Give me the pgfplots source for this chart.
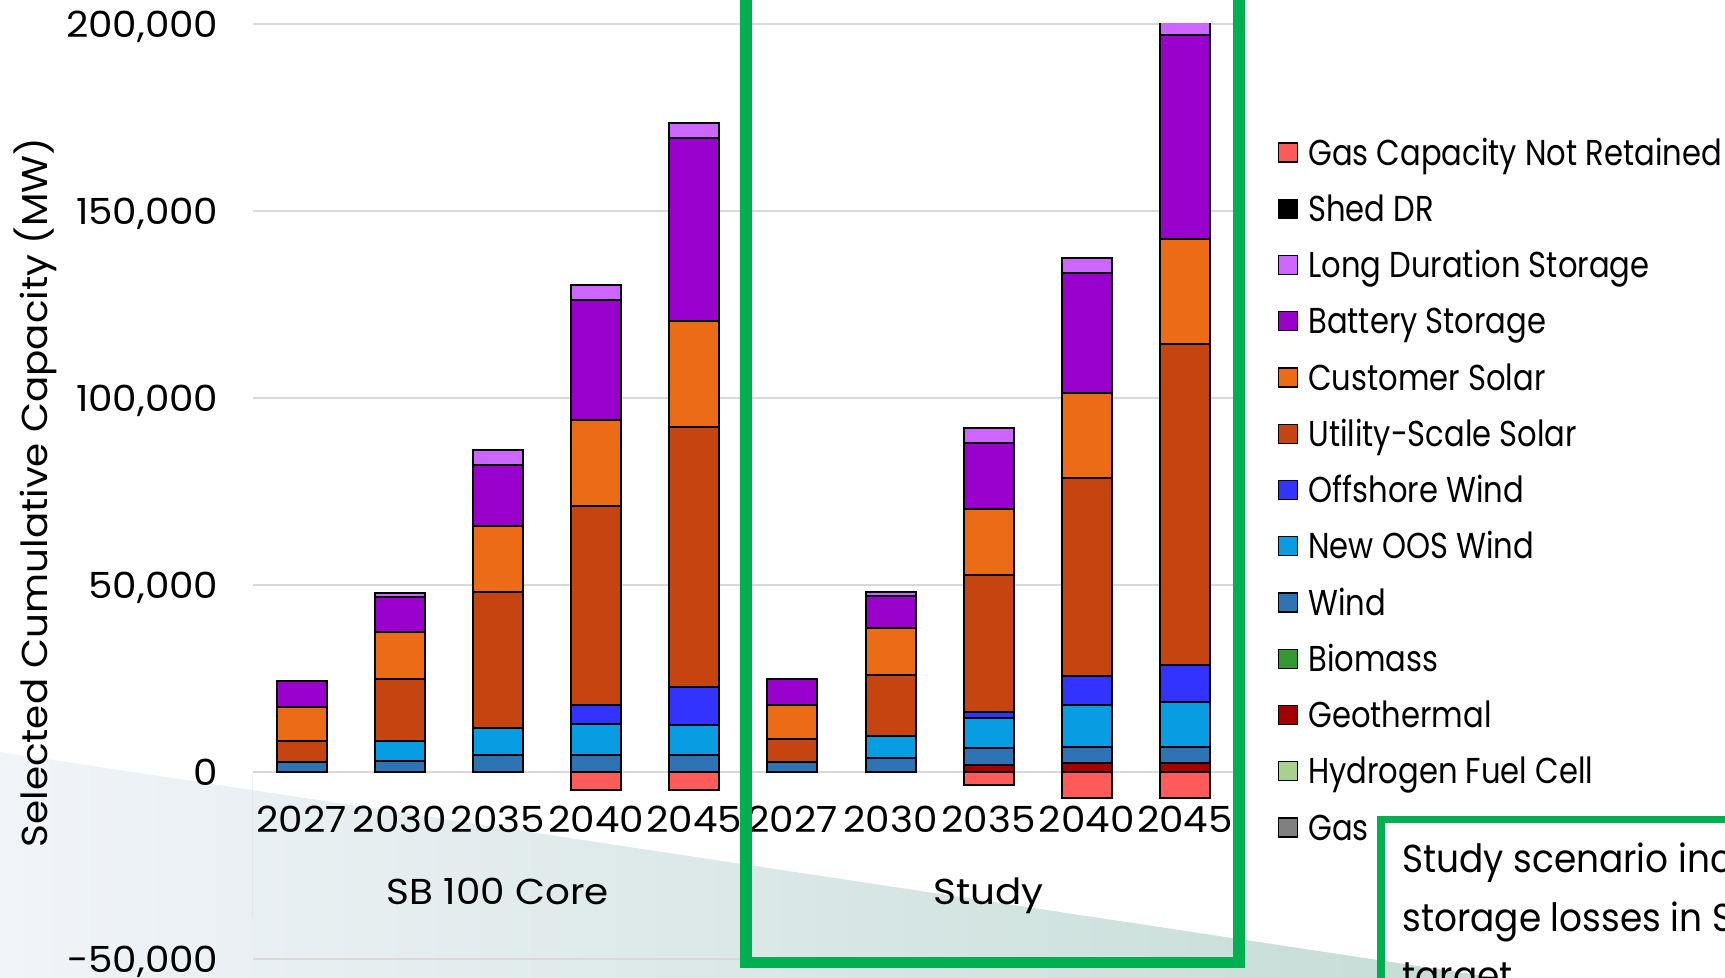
\documentclass[border=0pt]{standalone}
\usepackage{fontspec}
\setmainfont{Poppins}[FakeStretch=1.08]
\newfontfamily\legendfont{Poppins}[FakeStretch=0.85]
\newfontfamily\calloutfont{Poppins}[FakeStretch=0.92]
\usepackage{pgfplots}
\usepackage{pgfplotstable}
\pgfplotsset{compat=1.18}

\definecolor{gcnr}{HTML}{FF5B5B}
\definecolor{lds}{HTML}{CC66FF}
\definecolor{battery}{HTML}{9900CC}
\definecolor{custsolar}{HTML}{EB6B16}
\definecolor{utilsolar}{HTML}{C5440F}
\definecolor{offshore}{HTML}{3333FF}
\definecolor{newoos}{HTML}{089CE3}
\definecolor{wind}{HTML}{2E74B5}
\definecolor{biomass}{HTML}{339933}
\definecolor{geo}{HTML}{A50000}
\definecolor{hydrogen}{HTML}{A9D18E}
\definecolor{gas}{HTML}{808080}
\definecolor{gridgray}{HTML}{D9D9D9}
\definecolor{boxgreen}{HTML}{00B050}
\definecolor{bgl}{HTML}{F1F4F9}
\definecolor{bgr}{HTML}{C4DCD5}

% Selected cumulative capacity (MW); rows 0-4 = SB 100 Core, rows 5-9 = Study
\pgfplotstableread{
x wind geo newoos offshore utility customer battery lds gcnr
0 2750 0    0     0     5600  9090  6950  0    0
1 2940 0    5350  0     16650 12560 9360  1070 0
2 4540 0    7140  0     36510 17640 16150 4090 0
3 4540 0    8200  5160  53190 22990 32080 4010 -4810
4 4540 0    8020  10160 69580 28250 48840 4010 -4810
5 2750 0    0     0     5990  9170  6870  0    0
6 3660 0    5960  0     16220 12560 8710  990  0
7 4380 1950 8180  1440  36780 17640 17640 4010 -3470
8 4440 2330 11070 7830  52850 22880 32080 3850 -7030
9 4440 2330 11870 9890  85890 28150 54450 4000 -7030
}\capacity

\pgfplotsset{
  capframe/.style={
    at={(126.35pt,9.5pt)}, anchor=south west, scale only axis,
    width=490.65pt, height=467.5pt,
    xmin=-0.5, xmax=9.5, ymin=-50000, ymax=200000,
    bar width=25pt,
  },
}

\begin{document}
\fontsize{18pt}{21.6pt}\selectfont
\begin{tikzpicture}
\useasboundingbox (0,0) rectangle (862.5pt,489pt);
\clip (0,0) rectangle (862.5pt,489pt);

% slide background wedge
\shade[left color=bgl, right color=bgr] (0,113pt) -- (748.5pt,0) -- (0,0) -- cycle;

\begin{axis}[
  capframe,
  ybar stacked,
  axis line style={draw=none},
  tick style={draw=none},
  ymajorgrids,
  grid style={color=gridgray, line width=0.75pt},
  ytick={-50000,0,...,200000},
  yticklabels={{-50,000},{0},{50,000},{100,000},{150,000},{200,000}},
  yticklabel style={anchor=east, inner sep=0pt, xshift=-17pt, text depth=0pt},
  xtick={0,...,9},
  xticklabels={2027,2030,2035,2040,2045,2027,2030,2035,2040,2045},
  xticklabel style={anchor=base, inner sep=0pt, yshift=63pt},
  ylabel={Selected Cumulative Capacity (MW)},
  ylabel style={at={(axis description cs:-0.1994,0.499)}, anchor=south, inner sep=0pt},
  legend cell align=left,
  legend style={
    at={(axis description cs:1.0448,0.8759)}, anchor=north west,
    draw=none, fill=none, inner sep=0pt, outer sep=0pt,
    row sep=15.625pt, column sep=5pt, font=\legendfont,
    nodes={inner sep=0pt, text height=12.5pt, text depth=0pt},
  },
  legend image code/.code={\draw[#1, line width=0.7pt] (0pt,-4.75pt) rectangle (9.5pt,4.75pt);},
]
\addplot[fill=geo, draw=black, line width=1pt, forget plot] table[x=x, y=geo] {\capacity};
\addplot[fill=wind, draw=black, line width=1pt, forget plot] table[x=x, y=wind] {\capacity};
\addplot[fill=newoos, draw=black, line width=1pt, forget plot] table[x=x, y=newoos] {\capacity};
\addplot[fill=offshore, draw=black, line width=1pt, forget plot] table[x=x, y=offshore] {\capacity};
\addplot[fill=utilsolar, draw=black, line width=1pt, forget plot] table[x=x, y=utility] {\capacity};
\addplot[fill=custsolar, draw=black, line width=1pt, forget plot] table[x=x, y=customer] {\capacity};
\addplot[fill=battery, draw=black, line width=1pt, forget plot] table[x=x, y=battery] {\capacity};
\addplot[fill=lds, draw=black, line width=1pt, forget plot] table[x=x, y=lds] {\capacity};

\addlegendimage{fill=gcnr, draw=black}
\addlegendentry{Gas Capacity Not Retained}
\addlegendimage{fill=black, draw=black}
\addlegendentry{Shed DR}
\addlegendimage{fill=lds, draw=black}
\addlegendentry{Long Duration Storage}
\addlegendimage{fill=battery, draw=black}
\addlegendentry{Battery Storage}
\addlegendimage{fill=custsolar, draw=black}
\addlegendentry{Customer Solar}
\addlegendimage{fill=utilsolar, draw=black}
\addlegendentry{Utility-Scale Solar}
\addlegendimage{fill=offshore, draw=black}
\addlegendentry{Offshore Wind}
\addlegendimage{fill=newoos, draw=black}
\addlegendentry{New OOS Wind}
\addlegendimage{fill=wind, draw=black}
\addlegendentry{Wind}
\addlegendimage{fill=biomass, draw=black}
\addlegendentry{Biomass}
\addlegendimage{fill=geo, draw=black}
\addlegendentry{Geothermal}
\addlegendimage{fill=hydrogen, draw=black}
\addlegendentry{Hydrogen Fuel Cell}
\addlegendimage{fill=gas, draw=none}
\addlegendentry{Gas}

% category group boxes and labels
\draw[gridgray, line width=0.75pt] (axis cs:-0.5,0) -- (axis cs:-0.5,-39000);
\draw[gridgray, line width=0.75pt] (axis cs:4.5,0) -- (axis cs:4.5,-39000);
\draw[gridgray, line width=0.75pt] (axis cs:9.5,0) -- (axis cs:9.5,-39000);
\node[anchor=base, inner sep=0pt] at (axis cs:2,-35560) {SB 100 Core};
\node[anchor=base, inner sep=0pt] at (axis cs:7,-35560) {Study};
\end{axis}

% retired gas capacity, stacked downward from zero
\begin{axis}[capframe, ybar, hide axis]
\addplot[fill=gcnr, draw=black, line width=1pt, bar shift=0pt] table[x=x, y=gcnr] {\capacity};
\end{axis}

% highlight around the Study scenario
\draw[boxgreen, line width=5.75pt] (373pt,500pt) -- (373pt,7.75pt) -- (619.5pt,7.75pt) -- (619.5pt,500pt);

% call-out box
\draw[boxgreen, line width=3.85pt] (690.5pt,-20pt) -- (690.5pt,79.25pt) -- (900pt,79.25pt);
\begin{scope}[every node/.style={anchor=base west, inner sep=0pt, font=\calloutfont\fontsize{19.5pt}{23pt}\selectfont}]
\node at (701pt,52.5pt) {Study scenario includes};
\node at (701pt,23pt) {storage losses in SB 100};
\node at (701pt,-6pt) {target};
\end{scope}
\end{tikzpicture}
\end{document}
